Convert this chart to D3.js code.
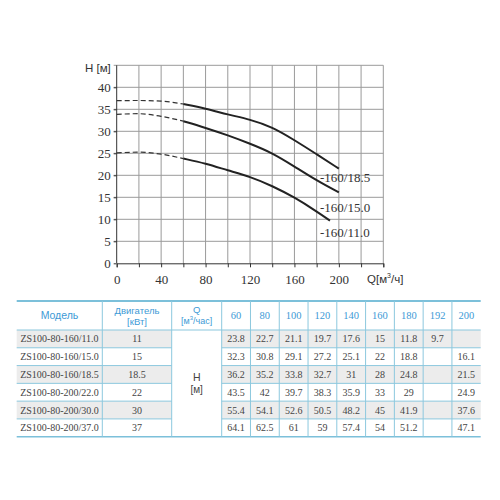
<!DOCTYPE html>
<html><head><meta charset="utf-8">
<script src="https://cdn.jsdelivr.net/npm/d3@7"></script>
<style>body{margin:0;background:#fff}</style>
</head><body>
<svg id="c" width="500" height="500"></svg>
<script>
// ---- Data ----
const xTicks = [0, 40, 80, 120, 160, 200];
const yTicks = [0, 5, 10, 15, 20, 25, 30, 35, 40];
const curveNames = ["-160/11.0", "-160/15.0", "-160/18.5"];
// dashed (estimated) start of each curve, flows 0..60
const dashQ = [0, 20, 40, 60];
const dash11 = [25.1, 25.25, 24.8, 23.8];
const dash15 = [33.85, 34.0, 33.4, 32.3];
const dash185 = [36.95, 37.0, 36.85, 36.2];
// table
const models = ["ZS100-80-160/11.0","ZS100-80-160/15.0","ZS100-80-160/18.5","ZS100-80-200/22.0","ZS100-80-200/30.0","ZS100-80-200/37.0"];
const motors = ["11","15","18.5","22","30","37"];
const flows = [60, 80, 100, 120, 140, 160, 180, 192, 200];
const head11 = [23.8, 22.7, 21.1, 19.7, 17.6, 15, 11.8, 9.7, null];
const head15 = [32.3, 30.8, 29.1, 27.2, 25.1, 22, 18.8, null, 16.1];
const head185 = [36.2, 35.2, 33.8, 32.7, 31, 28, 24.8, null, 21.5];
const head22 = [43.5, 42, 39.7, 38.3, 35.9, 33, 29, null, 24.9];
const head30 = [55.4, 54.1, 52.6, 50.5, 48.2, 45, 41.9, null, 37.6];
const head37 = [64.1, 62.5, 61, 59, 57.4, 54, 51.2, null, 47.1];
const heads = [head11, head15, head185, head22, head30, head37];

const svg = d3.select("#c");
const serif = "'Liberation Serif','DejaVu Serif',serif";
const sans = "'Liberation Sans',Arial,sans-serif";

// ---- Chart ----
const x = d3.scaleLinear().domain([0, 240]).range([116.7, 383.3]);
const y = d3.scaleLinear().domain([0, 45]).range([263.3, 65.3]);

const g = svg.append("g");
g.selectAll("line.vg").data(d3.range(20, 241, 20)).join("line")
  .attr("x1", d => x(d)).attr("x2", d => x(d)).attr("y1", y(0)).attr("y2", y(45))
  .attr("stroke", "#9a9a9a").attr("stroke-width", 1);
g.selectAll("line.hg").data(d3.range(5, 46, 5)).join("line")
  .attr("x1", x(0) - 3).attr("x2", x(240)).attr("y1", d => y(d)).attr("y2", d => y(d))
  .attr("stroke", "#9a9a9a").attr("stroke-width", 1);

const xAxis = d3.axisBottom(x).tickValues(d3.range(0, 241, 20)).tickSize(4)
  .tickFormat(d => xTicks.includes(d) ? d : "");
const xa = svg.append("g").attr("transform", `translate(0,${y(0)})`).call(xAxis);
xa.select(".domain").attr("stroke", "#333");
xa.selectAll(".tick line").attr("stroke", "#333");
xa.selectAll("text").attr("font-family", serif).attr("font-size", 13).attr("fill", "#333").attr("dy", "1.05em");

const yAxis = d3.axisLeft(y).tickValues(yTicks).tickSize(3);
const ya = svg.append("g").attr("transform", `translate(${x(0)},0)`).call(yAxis);
ya.select(".domain").attr("d", `M0,${y(0)}V${y(45)}`).attr("stroke", "#333");
ya.selectAll(".tick line").attr("stroke", "#333");
ya.selectAll("text").attr("font-family", serif).attr("font-size", 13).attr("fill", "#333").attr("x", -6);

svg.append("text").attr("x", 85).attr("y", 72).attr("font-family", sans).attr("font-size", 11.5).attr("fill", "#333").text("H [м]");
const ql = svg.append("text").attr("x", 367).attr("y", 283).attr("font-family", sans).attr("font-size", 11.5).attr("fill", "#333");
ql.append("tspan").text("Q[м");
ql.append("tspan").attr("font-size", 7).attr("dy", -5).text("3");
ql.append("tspan").attr("dy", 5).text("/ч]");

// curves
const dline = d3.line().x(d => x(d[0])).y(d => y(d[1])).curve(d3.curveMonotoneX);
const sline = d3.line().x(d => x(d[0])).y(d => y(d[1])).curve(d3.curveBasis);
const dashSets = [dash11, dash15, dash185];
[0, 1, 2].forEach(i => {
  const dpts = dashQ.map((q, j) => [q, dashSets[i][j]]);
  svg.append("path").attr("d", dline(dpts)).attr("fill", "none").attr("stroke", "#333")
    .attr("stroke-width", 1.2).attr("stroke-dasharray", "5,3");
  const spts = flows.map((q, j) => [q, heads[i][j]]).filter(p => p[1] != null);
  svg.append("path").attr("d", sline(spts)).attr("fill", "none").attr("stroke", "#222")
    .attr("stroke-width", 2);
});
const labY = [232, 207, 177];
curveNames.forEach((n, i) => {
  svg.append("text").attr("x", 320).attr("y", labY[i]).attr("dy", "0.35em")
    .attr("font-family", serif).attr("font-size", 13).attr("fill", "#333").text(n);
});

// ---- Table ----
const tTop = 301, hdrB = 330, tBot = 436.7;
const rowH = (tBot - hdrB) / 6;
const colX = [16.7, 102.3, 171.7, 221.7];
const vW = (480.7 - 221.7) / flows.length;
const vX = flows.map((f, i) => 221.7 + i * vW);
const tRight = 480.7;
const blue = "#3d9ad6", bline = "#8cc8de";

const t = svg.append("g");
[0, 2, 4].forEach(r => {
  const yy = hdrB + r * rowH;
  t.append("rect").attr("x", colX[0]).attr("y", yy).attr("width", colX[2] - colX[0]).attr("height", rowH).attr("fill", "#ececec");
  t.append("rect").attr("x", colX[3]).attr("y", yy).attr("width", tRight - colX[3]).attr("height", rowH).attr("fill", "#ececec");
});
for (let r = 1; r < 6; r++) {
  const yy = hdrB + r * rowH;
  t.append("line").attr("x1", colX[0]).attr("x2", colX[2]).attr("y1", yy).attr("y2", yy).attr("stroke", bline).attr("stroke-width", 1);
  t.append("line").attr("x1", colX[3]).attr("x2", tRight).attr("y1", yy).attr("y2", yy).attr("stroke", bline).attr("stroke-width", 1);
}
t.append("line").attr("x1", colX[0]).attr("x2", tRight).attr("y1", hdrB).attr("y2", hdrB).attr("stroke", bline).attr("stroke-width", 1.2);
t.append("line").attr("x1", colX[0]).attr("x2", tRight).attr("y1", tTop).attr("y2", tTop).attr("stroke", "#7cc0da").attr("stroke-width", 1.8);
t.append("line").attr("x1", colX[0]).attr("x2", tRight).attr("y1", tBot).attr("y2", tBot).attr("stroke", "#7cc0da").attr("stroke-width", 1.5);
[colX[1], colX[2], colX[3], ...vX.slice(1)].forEach(xx => {
  t.append("line").attr("x1", xx).attr("x2", xx).attr("y1", tTop).attr("y2", tBot).attr("stroke", bline).attr("stroke-width", 1);
});
const hdr = (txt, cx, cy, fs) => t.append("text").attr("x", cx).attr("y", cy).attr("text-anchor", "middle")
  .attr("font-family", sans).attr("font-size", fs).attr("fill", blue).text(txt);
hdr("Модель", (colX[0] + colX[1]) / 2, 319, 10.5);
hdr("Двигатель", (colX[1] + colX[2]) / 2, 314, 9.5);
hdr("[кВт]", (colX[1] + colX[2]) / 2, 325, 9.5);
hdr("Q", (colX[2] + colX[3]) / 2, 312.5, 9.5);
const qh = t.append("text").attr("x", (colX[2] + colX[3]) / 2).attr("y", 324).attr("text-anchor", "middle")
  .attr("font-family", sans).attr("font-size", 9).attr("fill", blue);
qh.append("tspan").text("[м");
qh.append("tspan").attr("font-size", 6).attr("dy", -4).text("3");
qh.append("tspan").attr("dy", 4).text("/час]");
flows.forEach((f, i) => {
  t.append("text").attr("x", vX[i] + vW / 2).attr("y", 319).attr("text-anchor", "middle")
    .attr("font-family", serif).attr("font-size", 10.5).attr("fill", blue).text(f);
});
const hy = hdrB + 3 * rowH;
t.append("text").attr("x", (colX[2] + colX[3]) / 2).attr("y", hy - 2).attr("text-anchor", "middle")
  .attr("font-family", sans).attr("font-size", 10.5).attr("fill", "#444").text("H");
t.append("text").attr("x", (colX[2] + colX[3]) / 2).attr("y", hy + 10).attr("text-anchor", "middle")
  .attr("font-family", sans).attr("font-size", 10).attr("fill", "#444").text("[м]");
models.forEach((m, r) => {
  const cy = hdrB + r * rowH + rowH / 2;
  t.append("text").attr("x", (colX[0] + colX[1]) / 2).attr("y", cy).attr("dy", "0.35em").attr("text-anchor", "middle")
    .attr("font-family", serif).attr("font-size", 10).attr("fill", "#444").text(m);
  t.append("text").attr("x", (colX[1] + colX[2]) / 2).attr("y", cy).attr("dy", "0.35em").attr("text-anchor", "middle")
    .attr("font-family", serif).attr("font-size", 10).attr("fill", "#444").text(motors[r]);
  heads[r].forEach((v, i) => {
    if (v == null) return;
    t.append("text").attr("x", vX[i] + vW / 2).attr("y", cy).attr("dy", "0.35em").attr("text-anchor", "middle")
      .attr("font-family", serif).attr("font-size", 10).attr("fill", "#444").text(v);
  });
});
</script>
</body></html>
